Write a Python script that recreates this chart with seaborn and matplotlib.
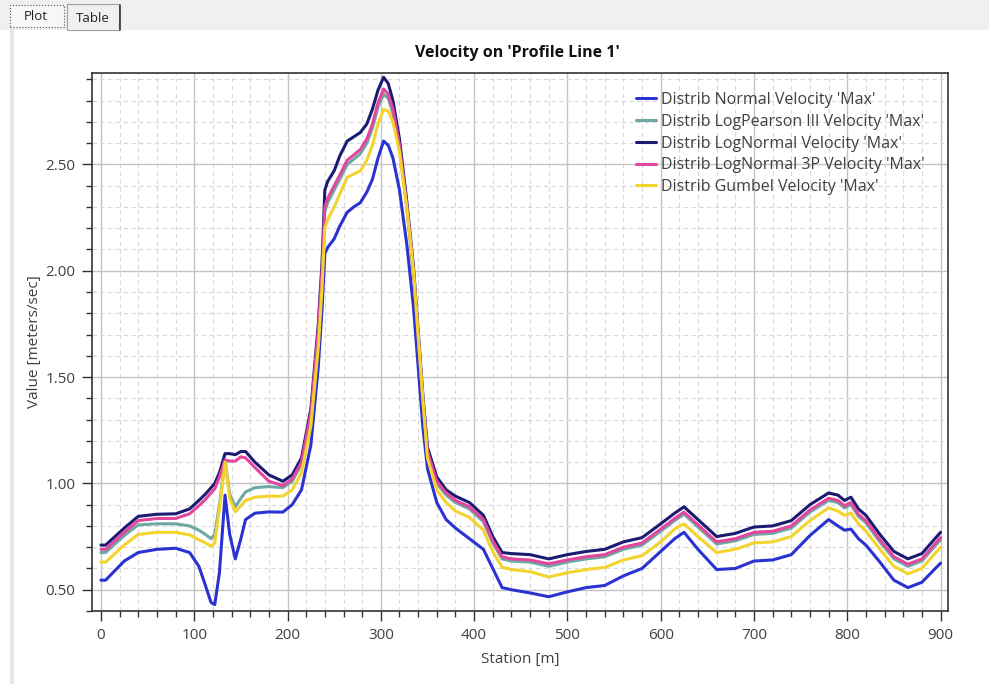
import numpy as np
import pandas as pd
import seaborn as sns
import matplotlib.pyplot as plt
from matplotlib.ticker import MultipleLocator, FormatStrFormatter
from matplotlib.patches import Rectangle
from matplotlib.lines import Line2D

# --- data ---
station = [0, 5, 15, 25, 40, 60, 80, 95, 105, 112, 118, 122, 127, 133, 138, 144, 150, 155, 165, 180,
           195, 205, 215, 225, 233, 237, 240, 243, 250, 256, 264, 271, 278, 285, 291, 297, 303, 308,
           313, 320, 328, 335, 340, 345, 350,
           360, 370, 380, 395, 410, 420, 430, 440, 460, 480, 500, 520, 540, 560, 580, 600, 615, 625,
           640, 660, 680, 700, 720, 740, 760, 780, 790, 797, 804, 812, 820, 835, 850, 865, 880, 900]

normal = [0.545, 0.545, 0.59, 0.635, 0.675, 0.69, 0.695, 0.675, 0.61, 0.52, 0.44, 0.43, 0.58, 0.945,
          0.76, 0.645, 0.74, 0.83, 0.86, 0.866, 0.865, 0.90, 0.97, 1.18, 1.55, 1.82, 2.08,
          2.11, 2.15, 2.21, 2.275, 2.30, 2.32, 2.37, 2.43, 2.53, 2.61, 2.59, 2.53, 2.38, 2.12, 1.83,
          1.55, 1.27, 1.07,
          0.91, 0.83, 0.79, 0.74, 0.69, 0.60,
          0.51, 0.50, 0.485, 0.467, 0.49, 0.51, 0.52, 0.565, 0.60, 0.68, 0.74, 0.77, 0.69, 0.595,
          0.60, 0.635, 0.64, 0.665, 0.755, 0.83, 0.80, 0.78, 0.785, 0.74, 0.71, 0.63, 0.545, 0.51,
          0.535, 0.625]

logpearson = [0.675, 0.675, 0.715, 0.755, 0.805, 0.81, 0.81, 0.80, 0.78, 0.76, 0.74, 0.76, 0.90, 1.11,
              0.95, 0.89, 0.93, 0.96, 0.98, 0.985, 0.98, 1.01, 1.09, 1.32, 1.70, 1.98, 2.28,
              2.32, 2.38, 2.43, 2.50, 2.525, 2.55, 2.60, 2.67, 2.77, 2.83, 2.81, 2.74, 2.58, 2.29, 1.99,
              1.69, 1.39, 1.14,
              1.00, 0.945, 0.91, 0.88, 0.82, 0.72,
              0.645, 0.635, 0.63, 0.61, 0.63, 0.645, 0.655, 0.69, 0.71, 0.775, 0.825, 0.855, 0.795,
              0.715, 0.73, 0.76, 0.765, 0.79, 0.865, 0.92, 0.91, 0.885, 0.90, 0.845, 0.815, 0.725,
              0.645, 0.61, 0.635, 0.735]

lognormal = [0.71, 0.71, 0.75, 0.79, 0.845, 0.855, 0.857, 0.88, 0.92, 0.95, 0.98, 1.00, 1.05, 1.14,
             1.14, 1.135, 1.15, 1.15, 1.10, 1.04, 1.01, 1.04, 1.12, 1.35, 1.75, 2.04, 2.38,
             2.42, 2.47, 2.54, 2.61, 2.63, 2.65, 2.69, 2.76, 2.85, 2.91, 2.88, 2.80, 2.62, 2.32, 2.02,
             1.72, 1.42, 1.17,
             1.03, 0.97, 0.94, 0.91, 0.85, 0.75,
             0.675, 0.67, 0.665, 0.645, 0.665, 0.68, 0.69, 0.725, 0.745, 0.81, 0.86, 0.89, 0.83, 0.75,
             0.765, 0.795, 0.80, 0.825, 0.90, 0.955, 0.945, 0.92, 0.935, 0.88, 0.85, 0.76, 0.68, 0.645,
             0.67, 0.77]

lognormal3p = [0.69, 0.69, 0.73, 0.77, 0.825, 0.835, 0.835, 0.857, 0.895, 0.925, 0.955, 0.975, 1.03,
               1.11, 1.105, 1.105, 1.125, 1.12, 1.075, 1.01, 0.99, 1.02, 1.10, 1.33, 1.72, 2.00, 2.30,
               2.34, 2.40, 2.45, 2.52, 2.545, 2.57, 2.62, 2.69, 2.79, 2.855, 2.83, 2.76, 2.59, 2.30, 2.00,
               1.70, 1.40, 1.15,
               1.01, 0.955, 0.92, 0.89, 0.83, 0.73,
               0.655, 0.645, 0.64, 0.622, 0.64, 0.655, 0.665, 0.70, 0.72, 0.785,
               0.835, 0.865, 0.805, 0.725, 0.74, 0.77, 0.775, 0.80, 0.875, 0.93, 0.92, 0.895, 0.91,
               0.855, 0.825, 0.735, 0.655, 0.62, 0.645, 0.745]

gumbel = [0.63, 0.63, 0.67, 0.71, 0.76, 0.77, 0.77, 0.758, 0.735, 0.72, 0.705, 0.72, 0.88, 1.10, 0.93,
          0.866, 0.895, 0.92, 0.935, 0.94, 0.94, 0.97, 1.05, 1.27, 1.64, 1.92, 2.20,
          2.24, 2.30, 2.36, 2.44, 2.455, 2.47, 2.52, 2.59, 2.69, 2.76, 2.75, 2.70, 2.56, 2.29, 2.00,
          1.70, 1.40, 1.12,
          0.97, 0.91, 0.87, 0.84, 0.78, 0.68,
          0.605, 0.595, 0.585, 0.56, 0.58, 0.595, 0.605, 0.64, 0.66, 0.725, 0.785, 0.81, 0.75, 0.675, 0.69,
          0.72, 0.725, 0.75, 0.825, 0.885, 0.87, 0.85, 0.86, 0.81, 0.775, 0.69, 0.61, 0.575, 0.60,
          0.70]

names = ["Distrib Normal Velocity 'Max'", "Distrib LogPearson III Velocity 'Max'",
         "Distrib LogNormal Velocity 'Max'", "Distrib LogNormal 3P Velocity 'Max'",
         "Distrib Gumbel Velocity 'Max'"]
colors = ['#2a32d2', '#6fa8a2', '#1b1b72', '#e2469e', '#f4d42c']

df = pd.DataFrame({
    'Station': station * 5,
    'Value': normal + logpearson + lognormal + lognormal3p + gumbel,
    'series': np.repeat(names, len(station)),
})

sns.set_theme(style='white')
plt.rcParams['font.family'] = ['Open Sans', 'DejaVu Sans']

W, H = 989, 684
fig = plt.figure(figsize=(W / 100, H / 100), dpi=100)
fig.patch.set_facecolor('white')

# tab strip on top of the window
fig.patches.append(Rectangle((0, 1 - 30 / H), 1, 30 / H, transform=fig.transFigure,
                             facecolor='#f0f0f0', edgecolor='none', zorder=0))
fig.patches.append(Rectangle((10 / W, 1 - 27 / H), 54 / W, 22 / H, transform=fig.transFigure,
                             facecolor='#f7f7f7', edgecolor='#555555', lw=0.8, ls=':', zorder=1))
fig.patches.append(Rectangle((67 / W, 1 - 30 / H), 52 / W, 26 / H, transform=fig.transFigure,
                             facecolor='#f0f0f0', edgecolor='#a0a0a0', lw=0.8, zorder=1))
fig.lines.append(Line2D([119.5 / W, 119.5 / W], [1 - 30 / H, 1 - 5 / H], transform=fig.transFigure,
                        color='#333333', lw=1.2))
fig.lines.append(Line2D([12 / W, 12 / W], [0, 1 - 30 / H], transform=fig.transFigure,
                        color='#e6e6e6', lw=3))
fig.text(36 / W, 1 - 16 / H, 'Plot', ha='center', va='center', fontsize=9.5, color='#222222')
fig.text(93 / W, 1 - 18 / H, 'Table', ha='center', va='center', fontsize=9.5, color='#222222')

ax = fig.add_axes([92 / W, 1 - 611 / H, (948 - 92) / W, (611 - 73) / H])
sns.lineplot(data=df, x='Station', y='Value', hue='series', hue_order=names,
             palette=dict(zip(names, colors)), linewidth=2.2, estimator=None, sort=False, ax=ax)
for ln in ax.get_lines():
    ln.set_solid_joinstyle('round')

ax.set_xlim(-9.6, 908)
ax.set_ylim(0.40, 2.93)
ax.xaxis.set_major_locator(MultipleLocator(100))
ax.xaxis.set_minor_locator(MultipleLocator(20))
ax.yaxis.set_major_locator(MultipleLocator(0.5))
ax.yaxis.set_minor_locator(MultipleLocator(0.1))
ax.yaxis.set_major_formatter(FormatStrFormatter('%.2f'))

ax.grid(which='major', color='#c4c4c4', lw=1)
ax.grid(which='minor', color='#d8d8d8', lw=0.8, ls=(0, (4, 3)))
ax.set_axisbelow(True)
ax.tick_params(which='major', direction='out', length=7, width=1, color='#333333',
               labelsize=11, labelcolor='#404040', left=True, bottom=True, pad=5)
ax.tick_params(which='minor', direction='out', length=4, width=1, color='#333333',
               left=True, bottom=True)
for s in ax.spines.values():
    s.set_color('#333333')
    s.set_linewidth(1.2)

ax.set_xlabel('Station [m]', fontsize=11, color='#404040')
ax.set_ylabel('Value [meters/sec]', fontsize=11, color='#404040')
ax.xaxis.set_label_coords(0.5, -0.076)
ax.yaxis.set_label_coords(-0.058, 0.5)

fig.text(517 / W, 1 - 53 / H, "Velocity on 'Profile Line 1'", ha='center', va='center',
         fontsize=11.5, fontweight='bold', color='#111111')

leg = ax.legend(loc='upper left', bbox_to_anchor=(636 / W, 1 - 92 / H),
                bbox_transform=fig.transFigure, frameon=False, fontsize=11.5,
                handlelength=1.25, handletextpad=0.31, labelspacing=0.36,
                borderpad=0, borderaxespad=0)
for t in leg.get_texts():
    t.set_color('#404040')
for h in leg.get_lines():
    h.set_linewidth(2.2)

fig.savefig('out.png', dpi=100)
